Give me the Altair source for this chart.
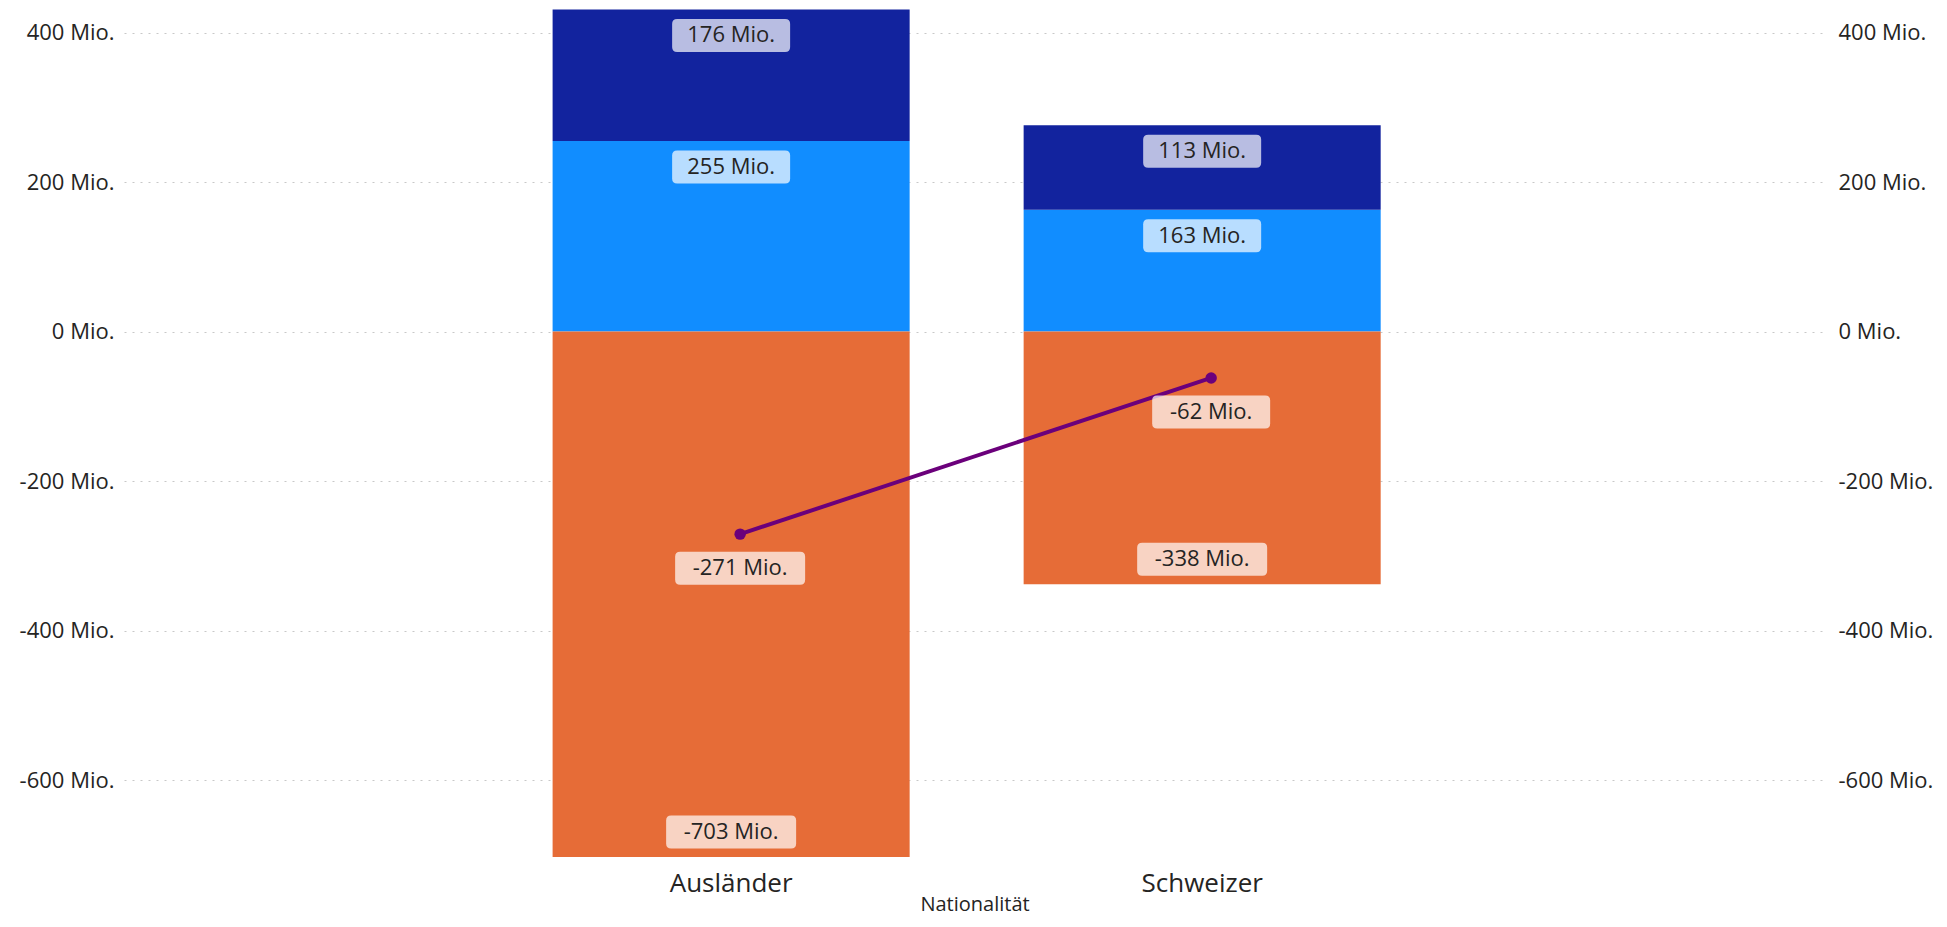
import altair as alt
import pandas as pd

# ---- data ----
categories = ["Ausländer", "Schweizer"]
series = ["Komponente A", "Komponente B", "Komponente C"]
vals_a = [255, 163]      # light blue (positive, bottom)
vals_b = [176, 113]      # dark blue (positive, top)
vals_c = [-703, -338]    # orange (negative)
net = [-271, -62]        # line
y_ticks = [-600, -400, -200, 0, 200, 400]

colors = ["#118DFF", "#12239E", "#E66C37"]
line_color = "#6B007B"
FONT = "Open Sans"
TXT = "#252423"

rows = []
for s_i, (s, vals) in enumerate(zip(series, [vals_a, vals_b, vals_c])):
    for c, v in zip(categories, vals):
        rows.append({"cat": c, "series": s, "value": v, "order": s_i})
df = pd.DataFrame(rows)
df_net = pd.DataFrame({"cat": categories, "net": net})


def box_path(label, h=33.0, r=5.0, u=80.0):
    w = 12.0 * len(label) + 22.0
    hw, hh, rr = w / 2 / u, h / 2 / u, r / u
    return (f"M{-hw+rr},{-hh} L{hw-rr},{-hh} Q{hw},{-hh} {hw},{-hh+rr} "
            f"L{hw},{hh-rr} Q{hw},{hh} {hw-rr},{hh} L{-hw+rr},{hh} "
            f"Q{-hw},{hh} {-hw},{hh-rr} L{-hw},{-hh+rr} Q{-hw},{-hh} {-hw+rr},{-hh} Z")


df["label"] = df["value"].map(lambda v: f"{v} Mio.")
df["box"] = df["label"].map(box_path)
df_net["label"] = df_net["net"].map(lambda v: f"{v} Mio.")
df_net["box"] = df_net["label"].map(box_path)

y_scale = alt.Scale(domain=[-703, 433], nice=False, zero=False)
x_scale = alt.Scale(paddingInner=0.242, paddingOuter=0.9266, align=0.491)

left_axis = alt.Axis(orient="left", values=y_ticks, labelExpr="datum.value + ' Mio.'",
                     title=None, domain=False, ticks=False, tickSize=0, labelPadding=10,
                     labelFont=FONT, labelFontSize=22, labelColor=TXT,
                     grid=True, gridColor="#c8c8c8", gridDash=[2, 6], gridWidth=1)
right_axis = alt.Axis(orient="right", values=y_ticks, labelExpr="datum.value + ' Mio.'",
                      title=None, domain=False, ticks=False, tickSize=0, labelPadding=13,
                      labelFont=FONT, labelFontSize=22, labelColor=TXT, grid=False)
x_axis = alt.Axis(title="Nationalität", labelAngle=0, domain=False, ticks=False, tickSize=0,
                  labelFont=FONT, labelFontSize=26, labelColor=TXT,
                  labelBaseline="alphabetic", labelPadding=34,
                  titleFont=FONT, titleFontSize=20, titleFontWeight="normal", titleColor=TXT,
                  titleBaseline="alphabetic", titleY=53)


def X():
    return alt.X("cat:N", sort=categories, scale=x_scale, axis=x_axis)


def Y(field):
    return alt.Y(field, scale=y_scale, axis=left_axis)


bars = alt.Chart(df).mark_bar().encode(
    x=X(),
    y=alt.Y("value:Q", stack="zero", scale=y_scale, axis=left_axis),
    color=alt.Color("series:N", scale=alt.Scale(domain=series, range=colors), legend=None),
    order=alt.Order("order:Q"),
)

stacked = alt.Chart(df).transform_stack(
    stack="value", groupby=["cat"], as_=["v0", "v1"], sort=[alt.SortField("order")]
)

label_layers = []
for cond, off in [("datum.value > 0", 26), ("datum.value < 0", -25)]:
    base = stacked.transform_filter(cond)
    label_layers.append(
        base.mark_point(filled=True, color="white", fillOpacity=0.7, strokeOpacity=0,
                        size=25600, yOffset=off).encode(
            x=X(), y=Y("v1:Q"), shape=alt.Shape("box:N", scale=None))
    )
    label_layers.append(
        base.mark_text(font=FONT, fontSize=22, color=TXT, baseline="middle", yOffset=off).encode(
            x=X(), y=Y("v1:Q"), text="label:N")
    )

XO = 9
line = alt.Chart(df_net).mark_line(color=line_color, strokeWidth=4, xOffset=XO).encode(
    x=X(), y=Y("net:Q"))
pts = alt.Chart(df_net).mark_circle(color=line_color, size=130, opacity=1, xOffset=XO).encode(
    x=X(), y=Y("net:Q"))
net_box = alt.Chart(df_net).mark_point(filled=True, color="white", fillOpacity=0.7,
                                       strokeOpacity=0, size=25600, yOffset=34,
                                       xOffset=XO).encode(
    x=X(), y=Y("net:Q"), shape=alt.Shape("box:N", scale=None))
net_txt = alt.Chart(df_net).mark_text(font=FONT, fontSize=22, color=TXT, baseline="middle",
                                      yOffset=34, xOffset=XO).encode(
    x=X(), y=Y("net:Q"), text="label:N")

main = alt.layer(bars, line, pts, *label_layers, net_box, net_txt)

right = alt.Chart(pd.DataFrame({"v": y_ticks})).mark_point(opacity=0).encode(
    y=alt.Y("v:Q", scale=y_scale, axis=right_axis))

chart = alt.layer(main, right).resolve_scale(y="independent").properties(
    width=1701, height=849,
    autosize=alt.AutoSizeParams(type="none"),
    padding={"left": 116, "top": 0, "right": 114, "bottom": 62},
    background="white",
).configure_view(stroke=None)

chart.save("out.html", embed_options={"renderer": "svg", "actions": False})
